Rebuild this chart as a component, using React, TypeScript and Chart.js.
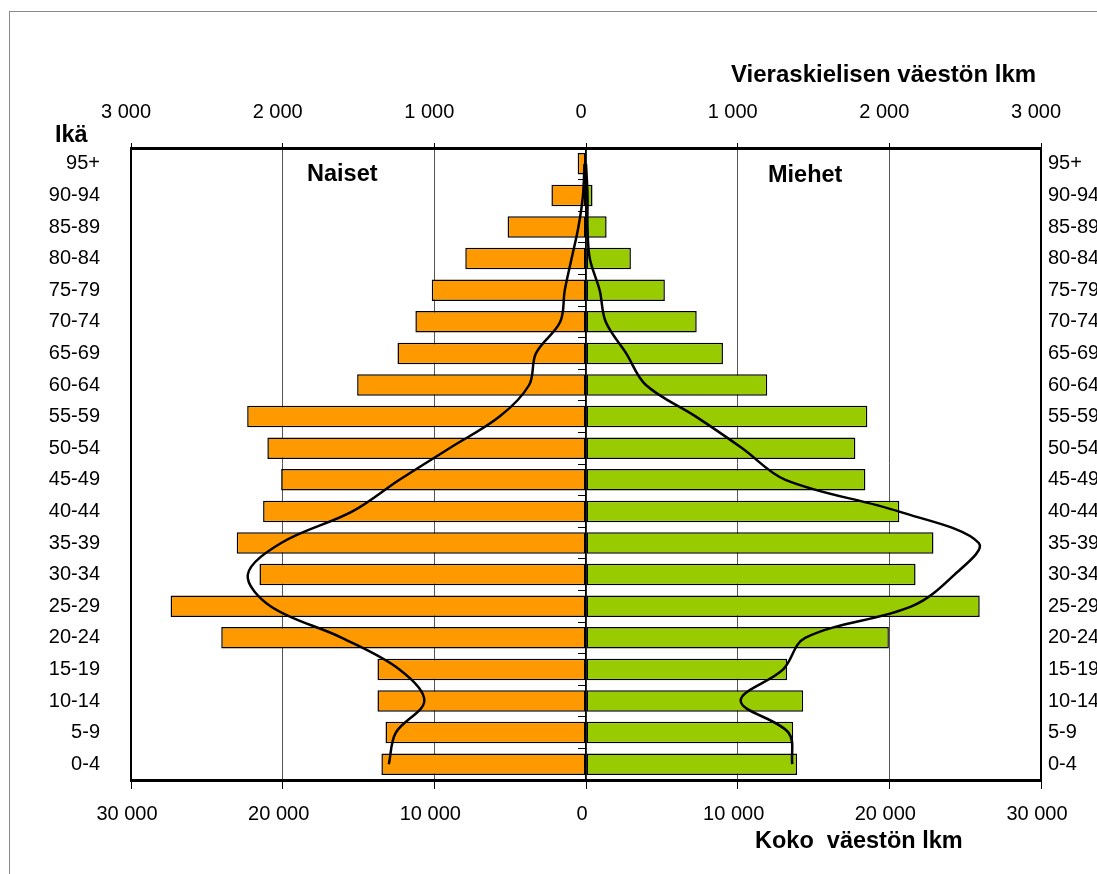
import React, { useEffect, useRef } from "react";
import { Chart, registerables } from "chart.js";

Chart.register(...registerables);

// Age groups, from the oldest (top) to the youngest (bottom)
const ageGroups = [
  "95+", "90-94", "85-89", "80-84", "75-79", "70-74", "65-69", "60-64", "55-59", "50-54",
  "45-49", "40-44", "35-39", "30-34", "25-29", "20-24", "15-19", "10-14", "5-9", "0-4",
];

// Whole population (bottom axis)
const womenTotal = [
  550, 2280, 5170, 7960, 10170, 11250, 12430, 15090, 22340, 21010,
  20100, 21290, 23030, 21530, 27390, 24050, 13750, 13750, 13220, 13490,
];
const menTotal = [
  60, 430, 1360, 2960, 5200, 7300, 9030, 11950, 18550, 17760,
  18420, 20660, 22910, 21730, 25960, 19970, 13260, 14320, 13660, 13920,
];

// Foreign-language population (top axis)
const womenForeign = [
  10, 20, 50, 95, 140, 170, 330, 375, 570, 900,
  1230, 1540, 2010, 2230, 2080, 1610, 1230, 1066, 1254, 1300,
];
const menForeign = [
  0, 10, 10, 25, 90, 130, 265, 395, 725, 1030,
  1315, 2060, 2590, 2430, 2150, 1445, 1300, 1020, 1335, 1360,
];

const totalTicks = [-30000, -20000, -10000, 0, 10000, 20000, 30000];
const foreignTicks = [-3000, -2000, -1000, 0, 1000, 2000, 3000];

const FONT = '"Liberation Sans", Arial, Helvetica, sans-serif';

const fmt = (v: number) =>
  String(Math.abs(Math.round(v))).replace(/\B(?=(\d{3})+(?!\d))/g, " ");

const textPlugin = {
  id: "pyramidTexts",
  afterDraw(chart: any) {
    const ctx = chart.ctx;
    ctx.save();
    ctx.fillStyle = "#000";
    ctx.textBaseline = "middle";
    ctx.textAlign = "left";
    ctx.font = `bold 24px ${FONT}`;
    ctx.fillText("Vieraskielisen väestön lkm", 731, 75);
    ctx.font = `bold 23.5px ${FONT}`;
    ctx.fillText("Ikä", 55, 136);
    ctx.fillText("Naiset", 307, 175);
    ctx.fillText("Miehet", 768, 176);
    ctx.fillText("Koko  väestön lkm", 755, 842);
    ctx.restore();
  },
};

export default function App() {
  const ref = useRef<HTMLCanvasElement | null>(null);

  useEffect(() => {
    if (!ref.current) return;
    const chart = new Chart(ref.current, {
      type: "bar",
      data: {
        labels: ageGroups,
        datasets: [
          {
            type: "line",
            label: "Naiset, vieraskieliset",
            data: womenForeign.map((v) => -v),
            indexAxis: "y",
            xAxisID: "x2",
            yAxisID: "y",
            borderColor: "#000",
            borderWidth: 2.5,
            pointRadius: 0,
            tension: 0.35,
            fill: false,
            order: 0,
          } as any,
          {
            type: "line",
            label: "Miehet, vieraskieliset",
            data: menForeign,
            indexAxis: "y",
            xAxisID: "x2",
            yAxisID: "y",
            borderColor: "#000",
            borderWidth: 2.5,
            pointRadius: 0,
            tension: 0.35,
            fill: false,
            order: 0,
          } as any,
          {
            type: "bar",
            label: "Naiset",
            data: womenTotal.map((v) => -v),
            indexAxis: "y",
            xAxisID: "x",
            yAxisID: "y",
            backgroundColor: "#FF9900",
            borderColor: "#000",
            borderWidth: 1.5,
            borderSkipped: false,
            barPercentage: 0.68,
            categoryPercentage: 1,
            order: 1,
          } as any,
          {
            type: "bar",
            label: "Miehet",
            data: menTotal,
            indexAxis: "y",
            xAxisID: "x",
            yAxisID: "y",
            backgroundColor: "#99CC00",
            borderColor: "#000",
            borderWidth: 1.5,
            borderSkipped: false,
            barPercentage: 0.68,
            categoryPercentage: 1,
            order: 1,
          } as any,
        ],
      },
      options: {
        indexAxis: "y",
        responsive: false,
        animation: false,
        layout: { padding: 0 },
        plugins: {
          legend: { display: false },
          tooltip: { enabled: false },
          title: { display: false },
        },
        scales: {
          x: {
            type: "linear",
            position: "bottom",
            min: -30000,
            max: 30000,
            stacked: true,
            afterBuildTicks: (s: any) => {
              s.ticks = totalTicks.map((v) => ({ value: v }));
            },
            afterFit: (s: any) => {
              s.height = 94;
            },
            ticks: {
              callback: (v: any) => fmt(Number(v)),
              color: "#000",
              font: { family: FONT, size: 20 },
              padding: 13,
              labelOffset: -4,
              maxRotation: 0,
            },
            grid: {
              color: "#555",
              lineWidth: 1,
              tickLength: 9,
              tickColor: "#000",
            },
            border: { display: true, color: "#000", width: 3 },
          },
          x2: {
            type: "linear",
            position: "top",
            min: -3000,
            max: 3000,
            afterBuildTicks: (s: any) => {
              s.ticks = foreignTicks.map((v) => ({ value: v }));
            },
            afterFit: (s: any) => {
              s.height = 148;
            },
            ticks: {
              callback: (v: any) => fmt(Number(v)),
              color: "#000",
              font: { family: FONT, size: 20 },
              padding: 19,
              labelOffset: -5,
              maxRotation: 0,
            },
            grid: {
              display: true,
              drawOnChartArea: false,
              tickLength: 5,
              tickColor: "#000",
              lineWidth: 1,
            },
            border: { display: true, color: "#000", width: 3 },
          },
          y: {
            type: "category",
            position: "left",
            stacked: true,
            offset: true,
            afterFit: (s: any) => {
              s.width = 131;
            },
            ticks: {
              color: "#000",
              font: { family: FONT, size: 20 },
              padding: 31,
            },
            grid: { display: false, drawTicks: false },
            border: { display: true, color: "#000", width: 2 },
          },
          y2: {
            type: "category",
            position: "right",
            labels: ageGroups,
            offset: true,
            afterFit: (s: any) => {
              s.width = 1160 - 1041;
            },
            ticks: {
              color: "#000",
              font: { family: FONT, size: 20 },
              padding: 7,
            },
            grid: { display: false, drawTicks: false },
            border: { display: true, color: "#000", width: 2 },
          },
          y3: {
            type: "category",
            position: { x: 0 } as any,
            labels: ageGroups,
            offset: true,
            ticks: { display: false },
            grid: {
              display: true,
              offset: true,
              drawOnChartArea: false,
              drawTicks: true,
              tickLength: 7,
              tickColor: "#000",
              lineWidth: 1,
            },
            border: { display: true, color: "#000", width: 1.5 },
          },
        },
      } as any,
      plugins: [textPlugin],
    });
    return () => chart.destroy();
  }, []);

  return (
    <div
      style={{
        position: "fixed",
        left: 0,
        top: 0,
        width: 1097,
        height: 874,
        overflow: "hidden",
        background: "#fff",
      }}
    >
      <div
        style={{
          position: "absolute",
          left: 9,
          top: 11,
          right: -20,
          bottom: -20,
          borderLeft: "1px solid #8a8a8a",
          borderTop: "1px solid #8a8a8a",
        }}
      />
      <canvas
        ref={ref}
        width={1160}
        height={874}
        style={{ position: "absolute", left: 0, top: 0, width: 1160, height: 874 }}
      />
    </div>
  );
}
